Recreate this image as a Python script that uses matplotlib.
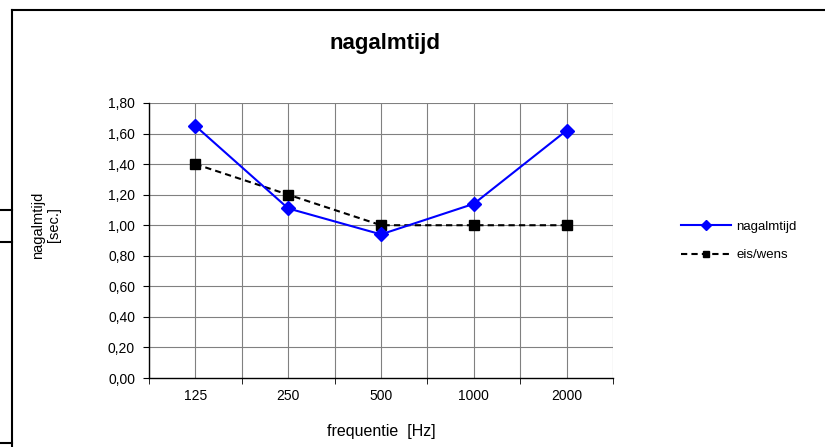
import matplotlib.pyplot as plt
from matplotlib.lines import Line2D

plt.rcParams['font.family'] = ['Liberation Sans', 'DejaVu Sans']

frequencies = ['125', '250', '500', '1000', '2000']
nagalmtijd = [1.65, 1.11, 0.94, 1.14, 1.62]
eis_wens = [1.40, 1.20, 1.00, 1.00, 1.00]
y_ticks = [0.0, 0.2, 0.4, 0.6, 0.8, 1.0, 1.2, 1.4, 1.6, 1.8]

W, H = 825, 447
fig = plt.figure(figsize=(W / 100, H / 100), dpi=100)
ax = fig.add_axes([149 / W, 1 - 378 / H, (613 - 149) / W, (378 - 103) / H])

x = list(range(len(frequencies)))
ax.plot(x, nagalmtijd, color='#0000ff', lw=1.5, marker='D', ms=7,
        label='nagalmtijd', zorder=4)
ax.plot(x, eis_wens, color='black', lw=1.5, ls=(0, (3, 2)), marker='s', ms=6.5,
        label='eis/wens', zorder=3)

ax.set_xlim(-0.5, len(frequencies) - 0.5)
ax.set_ylim(0, 1.8)
ax.set_yticks(y_ticks)
ax.set_yticklabels([f'{v:.2f}'.replace('.', ',') for v in y_ticks], fontsize=10)

# category labels at the centres, tick marks at the boundaries
ax.set_xticks(x)
ax.set_xticklabels(frequencies, fontsize=10)
ax.tick_params(axis='x', length=0, pad=8)
ax.set_xticks([i - 0.5 for i in range(len(frequencies) + 1)], minor=True)
ax.tick_params(axis='x', which='minor', length=4, direction='out', color='black')
ax.tick_params(axis='y', length=4, direction='out', pad=6)

for v in y_ticks[1:]:
    ax.axhline(v, color='#808080', lw=0.8, zorder=1)
for i in range(len(frequencies) * 2 + 1):
    ax.axvline(i / 2 - 0.5, color='#808080', lw=0.8, zorder=1)

for s in ['top', 'right']:
    ax.spines[s].set_visible(False)
for s in ['left', 'bottom']:
    ax.spines[s].set_linewidth(1.0)

ax.set_xlabel('frequentie  [Hz]', fontsize=11.5, labelpad=15)
fig.text(46 / W, 1 - 225 / H, 'nagalmtijd\n[sec.]', rotation=90,
         ha='center', va='center', fontsize=10.5, linespacing=1.1)
fig.text(385 / W, 1 - 43 / H, 'nagalmtijd', ha='center', va='center',
         fontsize=16, fontweight='bold')

fig.legend(loc='center left', bbox_to_anchor=(669 / W, 1 - 241 / H),
           frameon=False, fontsize=9.5, handlelength=3.8, labelspacing=1.25,
           handletextpad=0.4, markerscale=0.7)

# sheet/frame borders
def fline(xs, ys):
    fig.add_artist(Line2D([v / W for v in xs], [1 - v / H for v in ys],
                          color='black', lw=1.5, transform=fig.transFigure))

fline([12, W], [10, 10])
fline([12, 12], [10, H])
fline([0, 12], [210, 210])
fline([0, 12], [242, 242])
fline([0, 12], [443, 443])

fig.savefig('out.png', dpi=100)
